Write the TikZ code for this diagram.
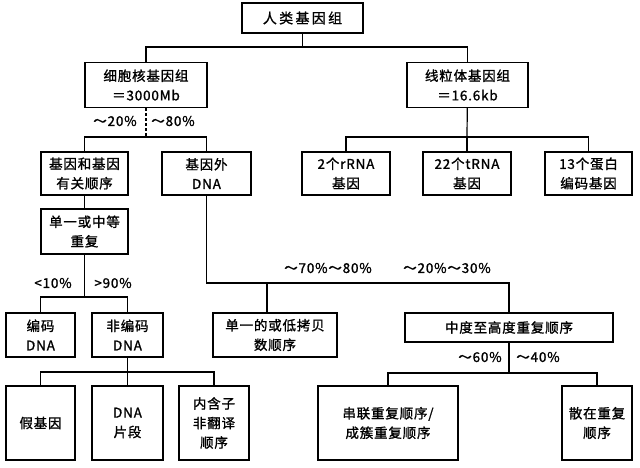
\documentclass[tikz,border=0pt]{standalone}
\usepackage{fontspec}
\newfontfamily\cjk[LetterSpace=6,FakeBold=1.2]{Noto Sans CJK SC}
\begin{document}
\begin{tikzpicture}[x=1pt,y=-1pt,line width=1.2pt,
		box/.style={draw,align=center,inner sep=0pt,font=\cjk\fontsize{13.5}{19.5}\selectfont},
		pct/.style={font=\cjk\fontsize{13.5}{15}\selectfont}]
	\useasboundingbox (0,0) rectangle (640,467);
	\node [box,minimum width=121,minimum height=30,font=\cjk\fontsize{14}{16}\selectfont] (human) at (302.5,18) {人\,类\,基\,因\,组};
	\node [box,minimum width=122,minimum height=45] (nuc) at (146,85) {细胞核基因组\\＝3000Mb};
	\node [box,minimum width=121,minimum height=45] (mito) at (467.5,85) {线粒体基因组\\＝16.6kb};
	\node [box,minimum width=87,minimum height=43] (gene) at (84.5,173.5) {基因和基因\\有关顺序};
	\node [box,minimum width=89,minimum height=43] (extra) at (206.5,173.5) {基因外\\DNA};
	\node [box,minimum width=88,minimum height=43] (rrna) at (346,173.5) {2个rRNA\\基因};
	\node [box,minimum width=88,minimum height=43] (trna) at (467,173.5) {22个tRNA\\基因};
	\node [box,minimum width=87,minimum height=43] (prot) at (588.5,173.5) {13个蛋白\\编码基因};
	\node [box,minimum width=87,minimum height=45] (rep) at (84.5,231.5) {单一或中等\\重复};
	\node [box,minimum width=69,minimum height=44] (cod) at (40.5,335) {编码\\DNA};
	\node [box,minimum width=71,minimum height=44] (ncod) at (127.5,335) {非编码\\DNA};
	\node [box,minimum width=124,minimum height=44] (single) at (275,335) {单一的或低拷贝\\数顺序};
	\node [box,minimum width=208,minimum height=29] (mid) at (509,327.5) {中度至高度重复顺序};
	\node [box,minimum width=69,minimum height=74] (pseudo) at (40.5,423) {假基因};
	\node [box,minimum width=71,minimum height=74] (frag) at (127.5,423) {DNA\\片段};
	\node [box,minimum width=70,minimum height=74] (intron) at (214,423) {内含子\\非翻译\\顺序};
	\node [box,minimum width=140,minimum height=74] (tandem) at (388,423) {串联重复顺序/\\成簇重复顺序};
	\node [box,minimum width=70,minimum height=74] (disp) at (597,423) {散在重复\\顺序};
	\coordinate (top) at (302.5,47);
	\coordinate (nucsplit) at (146,137);
	\coordinate (mitosplit) at (467,137);
	\coordinate (repsplit) at (84.5,297);
	\coordinate (ncodsplit) at (127.5,372);
	\coordinate (dnasplit) at (267,283);
	\coordinate (midsplit) at (509,373);
	\draw (human) -- (top);
	\draw (nuc.north) |- (top) -| (mito.north);
	\draw [densely dashed] (nuc) -- (nucsplit);
	\draw (gene.north) |- (nucsplit) -| (extra.north);
	\draw (mito) -- (mitosplit);
	\draw (rrna.north) |- (mitosplit) -| (prot.north);
	\draw (trna) -- (mitosplit);
	\draw (gene) -- (rep);
	\draw (rep) -- (repsplit);
	\draw (cod.north) |- (repsplit) -| (ncod.north);
	\draw (ncod) -- (ncodsplit);
	\draw (pseudo.north) |- (ncodsplit) -| (intron.north);
	\draw (frag) -- (ncodsplit);
	\draw (extra.south) |- (dnasplit) -| (mid.north);
	\draw (dnasplit) -- (dnasplit |- single.north);
	\draw (mid) -- (midsplit);
	\draw (tandem.north) |- (midsplit) -| (disp.north);
	\node [pct] (n20) at (115,121) {～20\%};
	\node [pct] (n80) at (173,121) {～80\%};
	\node [pct] (lt10) at (53,283) {<10\%};
	\node [pct] (gt90) at (113,283) {>90\%};
	\node [pct] (s70) at (328,268) {～70\%～80\%};
	\node [pct] (s20) at (447,268) {～20\%～30\%};
	\node [pct] (m60) at (480,357) {～60\%};
	\node [pct] (m40) at (538,357) {～40\%};
\end{tikzpicture}
\end{document}
